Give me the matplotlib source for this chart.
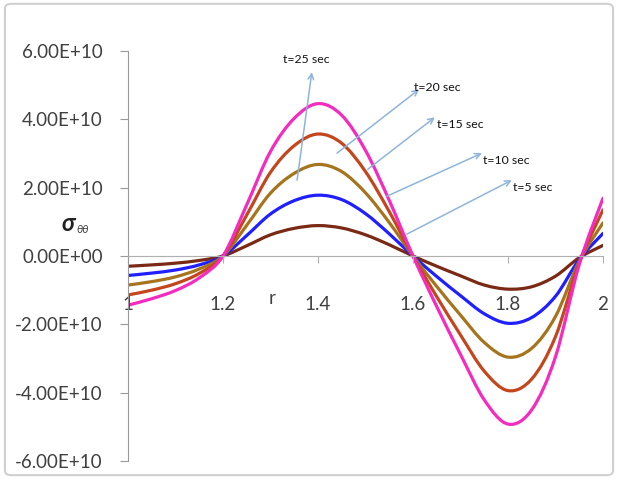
import numpy as np
import matplotlib.pyplot as plt
from matplotlib.path import Path
from matplotlib.patches import PathPatch, FancyBboxPatch
from matplotlib.ticker import FuncFormatter, MultipleLocator

plt.rcParams['font.family'] = ['Lato', 'DejaVu Sans']

# radius r and hoop stress sigma_theta_theta (units of 1e10)
r = [1.00, 1.05, 1.10, 1.15, 1.20, 1.25, 1.30, 1.35, 1.40, 1.45, 1.50,
     1.55, 1.60, 1.65, 1.70, 1.75, 1.80, 1.85, 1.90, 1.95, 2.00]
s_t5 = [-0.30, -0.26, -0.21, -0.13, 0.00, 0.30, 0.62, 0.81, 0.89, 0.82, 0.62,
        0.33, 0.00, -0.30, -0.58, -0.85, -0.97, -0.90, -0.59, -0.05, 0.31]
s_t10 = [-0.57, -0.50, -0.41, -0.26, 0.00, 0.60, 1.23, 1.62, 1.78, 1.65, 1.24,
         0.65, 0.00, -0.60, -1.16, -1.69, -1.97, -1.80, -1.18, -0.10, 0.66]
s_t15 = [-0.85, -0.75, -0.61, -0.38, 0.00, 0.90, 1.84, 2.42, 2.68, 2.47, 1.85,
         0.98, 0.00, -0.89, -1.73, -2.53, -2.96, -2.70, -1.77, -0.15, 0.97]
s_t20 = [-1.14, -1.00, -0.81, -0.51, 0.00, 1.20, 2.45, 3.23, 3.57, 3.30, 2.47,
         1.30, 0.00, -1.19, -2.31, -3.37, -3.94, -3.60, -2.36, -0.20, 1.35]
s_t25 = [-1.44, -1.25, -1.01, -0.64, 0.00, 1.50, 3.06, 4.03, 4.46, 4.12, 3.09,
         1.63, 0.00, -1.48, -2.88, -4.21, -4.92, -4.50, -2.95, -0.25, 1.69]

series = [s_t5, s_t10, s_t15, s_t20, s_t25]
colors = ['#7a2a14', '#1f1fff', '#a5741c', '#c3461d', '#f52bbf']
y_ticks = [-6e10, -4e10, -2e10, 0, 2e10, 4e10, 6e10]


def smooth_path(x, y):
    # excel style smoothed line: bezier segments through the data points
    x = np.asarray(x)
    y = np.asarray(y)
    verts = [(x[0], y[0])]
    codes = [Path.MOVETO]
    n = len(x)
    for i in range(n - 1):
        i0 = max(i - 1, 0)
        i3 = min(i + 2, n - 1)
        c1 = (x[i] + (x[i + 1] - x[i0]) / 6, y[i] + (y[i + 1] - y[i0]) / 6)
        c2 = (x[i + 1] - (x[i3] - x[i]) / 6, y[i + 1] - (y[i3] - y[i]) / 6)
        verts += [c1, c2, (x[i + 1], y[i + 1])]
        codes += [Path.CURVE4] * 3
    return Path(verts, codes)


fig = plt.figure(figsize=(6.18, 4.79), dpi=100)
ax = fig.add_axes([0.2071, 0.0376, 0.7686, 0.8559])

for s, c in zip(series, colors):
    vals = np.array(s) * 1e10
    ax.add_patch(PathPatch(smooth_path(r, vals), facecolor='none',
                           edgecolor=c, lw=2.3, capstyle='round'))

ax.set_xlim(1, 2)
ax.set_ylim(-6e10, 6e10)
ax.set_yticks(y_ticks)
ax.xaxis.set_major_locator(MultipleLocator(0.2))
ax.yaxis.set_major_formatter(FuncFormatter(lambda v, p: f"{v:.2E}"))
ax.xaxis.set_major_formatter(FuncFormatter(lambda v, p: f"{v:g}"))

for side in ['top', 'right']:
    ax.spines[side].set_visible(False)
ax.spines['bottom'].set_position(('data', 0))
ax.spines['bottom'].set_color('#b0b0b0')
ax.spines['left'].set_color('#9a9a9a')
ax.tick_params(axis='y', direction='out', length=6, color='#9a9a9a',
               labelsize=13.5, labelcolor='#404040', pad=12)
ax.tick_params(axis='x', direction='out', length=5, color='#b0b0b0',
               labelsize=13.5, labelcolor='#404040', pad=24)

ax.text(1.303, -1.24e10, 'r', fontsize=13.5, color='#404040',
        ha='center', va='center')
fig.text(0.110, 0.534, 'σ', fontsize=17, fontweight='bold', style='italic',
         ha='center', va='center', color='#202020')
fig.text(0.133, 0.520, 'θθ', fontsize=8, style='italic',
         ha='center', va='center', color='#404040')

arrow_c = '#8fb4dc'
notes = [('t=25 sec', (1.356, 2.22e10), (1.387, 5.38e10), (1.326, 5.76e10)),
         ('t=20 sec', (1.440, 3.01e10), (1.613, 4.88e10), (1.602, 4.94e10)),
         ('t=15 sec', (1.505, 2.54e10), (1.646, 4.06e10), (1.651, 3.86e10)),
         ('t=10 sec', (1.545, 1.75e10), (1.745, 3.01e10), (1.747, 2.80e10)),
         ('t=5 sec', (1.587, 0.64e10), (1.808, 2.22e10), (1.811, 2.01e10))]
for label, tail, head, pos in notes:
    ax.annotate('', xy=head, xytext=tail,
                arrowprops=dict(arrowstyle='->', color=arrow_c, lw=1.1,
                                shrinkA=0, shrinkB=0))
    ax.text(pos[0], pos[1], label, fontsize=8.8, color='#111111',
            ha='left', va='center')

fig.patches.append(FancyBboxPatch((0.008, 0.008), 0.984, 0.984,
                                  boxstyle='round,pad=0,rounding_size=0.01',
                                  transform=fig.transFigure, facecolor='none',
                                  edgecolor='#d0d0d0', lw=1.5))

fig.savefig('out.png', dpi=100)
